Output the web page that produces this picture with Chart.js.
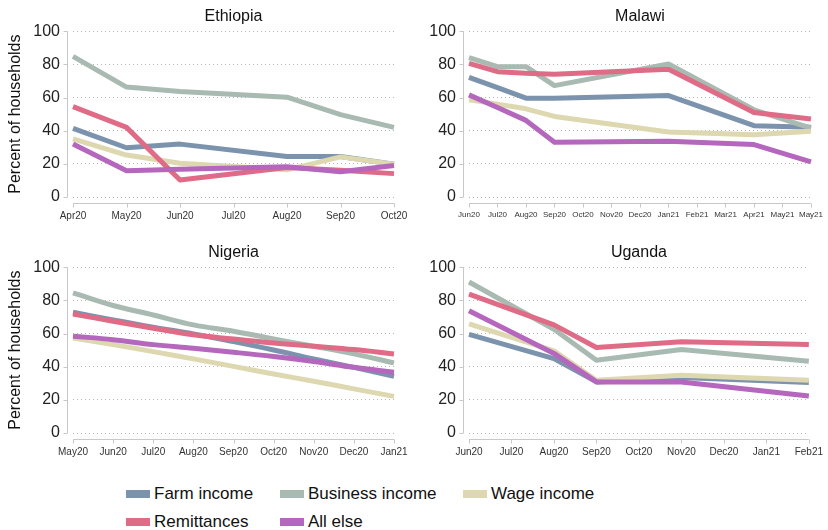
<!DOCTYPE html>
<html lang="en">
<head>
  <meta charset="UTF-8" />
  <title>Income sources by country</title>
  <script src="https://cdn.jsdelivr.net/npm/chart.js"></script>
  <style>
    body { margin: 0; background: #fff; font-family: "Liberation Sans", Arial, sans-serif; }
    .figure { position: relative; width: 828px; height: 530px; background: #fff; overflow: hidden; }
    .panel { position: absolute; width: 414px; height: 230px; }
    .legend-item { position: absolute; height: 24px; display: flex; align-items: center; font-size: 17px; color: #111; white-space: nowrap; }
    .legend-item .swatch { width: 24px; height: 8px; margin-right: 4px; }
  </style>
</head>
<body>
  <div class="figure">
    <div class="panel" style="left:0;top:0"><canvas id="ethiopia" width="414" height="230"></canvas></div>
    <div class="panel" style="left:414px;top:0"><canvas id="malawi" width="414" height="230"></canvas></div>
    <div class="panel" style="left:0;top:236px"><canvas id="nigeria" width="414" height="230"></canvas></div>
    <div class="panel" style="left:414px;top:236px"><canvas id="uganda" width="414" height="230"></canvas></div>
    <div id="legend"></div>
  </div>

  <script>
    // series names and colours (same order everywhere)
    const seriesNames = ['Farm income', 'Business income', 'Wage income', 'Remittances', 'All else'];
    const seriesColors = ['#7b93ad', '#a9bab2', '#ddd8b0', '#df6b86', '#b467bc'];

    // Ethiopia (no survey in Jul20)
    const ethiopiaMonths = ['Apr20', 'May20', 'Jun20', 'Jul20', 'Aug20', 'Sep20', 'Oct20'];
    const ethiopiaFarm = [41.4, 29.7, 31.9, null, 24.4, 24.4, 19.8];
    const ethiopiaBusiness = [84.8, 66.3, 63.6, null, 60.2, 49.7, 42.0];
    const ethiopiaWage = [35.0, 25.3, 20.4, null, 16.4, 24.2, 19.8];
    const ethiopiaRemit = [54.5, 42.0, 10.3, null, 17.8, 16.2, 14.1];
    const ethiopiaOther = [31.9, 15.8, 16.8, null, 18.2, 15.2, 19.0];

    // Malawi
    const malawiMonths = ['Jun20', 'Jul20', 'Aug20', 'Sep20', 'Oct20', 'Nov20', 'Dec20', 'Jan21', 'Feb21', 'Mar21', 'Apr21', 'May21', 'May21'];
    const malawiFarm = [72.2, 66.0, 59.6, 59.6, null, null, null, 61.2, null, null, 43.0, null, 42.0];
    const malawiBusiness = [84.0, 78.6, 78.6, 67.2, null, null, null, 80.2, null, null, 52.6, null, 41.6];
    const malawiWage = [58.6, 56.0, 53.2, 48.6, null, null, null, 39.2, null, null, 37.6, null, 39.6];
    const malawiRemit = [80.6, 75.6, 74.6, 74.0, null, null, null, 77.0, null, null, 51.0, null, 47.0];
    const malawiOther = [61.6, 54.0, 46.2, 33.0, null, null, null, 33.6, null, null, 31.6, null, 21.2];

    // Nigeria (smoothed)
    const nigeriaMonths = ['May20', 'Jun20', 'Jul20', 'Aug20', 'Sep20', 'Oct20', 'Nov20', 'Dec20', 'Jan21'];
    const nigeriaFarm = [72.8, 68.2, 63.8, 59.8, 55.1, 50.1, 44.7, 39.6, 34.2];
    const nigeriaBusiness = [84.5, 76.9, 71.2, 65.2, 61.4, 56.7, 52.3, 47.7, 42.3];
    const nigeriaWage = [57.3, 53.3, 49.1, 44.7, 40.2, 35.6, 31.2, 26.6, 22.1];
    const nigeriaRemit = [71.8, 67.4, 63.2, 59.2, 56.7, 54.3, 52.3, 50.3, 47.7];
    const nigeriaOther = [58.4, 56.3, 53.3, 51.1, 48.7, 46.1, 43.1, 39.6, 36.6];

    // Uganda
    const ugandaMonths = ['Jun20', 'Jul20', 'Aug20', 'Sep20', 'Oct20', 'Nov20', 'Dec20', 'Jan21', 'Feb21'];
    const ugandaFarm = [59.5, null, 44.9, 30.8, null, 33.4, null, null, 30.4];
    const ugandaBusiness = [91.1, null, 62.6, 43.9, null, 50.4, null, null, 43.3];
    const ugandaWage = [65.8, null, 49.6, 31.8, null, 34.8, null, null, 31.8];
    const ugandaRemit = [83.8, null, 65.2, 51.6, null, 55.1, null, null, 53.4];
    const ugandaOther = [73.7, null, 48.0, 30.8, null, 30.8, null, null, 22.3];

    const yTicks = [0, 20, 40, 60, 80, 100];
    const FONT = '"Liberation Sans", Arial, sans-serif';

    // axis lines sit a few pixels off the plot region, with short tick marks
    const offsetAxes = {
      id: 'offsetAxes',
      afterDraw(chart) {
        const { ctx, chartArea: a, scales: { x, y } } = chart;
        const ax = Math.round(a.left - 6) + 0.5;
        const ay = Math.round(a.bottom + 6) + 0.5;
        ctx.save();
        ctx.strokeStyle = '#c8c8c8';
        ctx.lineWidth = 1;
        ctx.beginPath();
        ctx.moveTo(ax, y.getPixelForValue(100));
        ctx.lineTo(ax, y.getPixelForValue(0));
        yTicks.forEach(v => {
          const py = Math.round(y.getPixelForValue(v)) + 0.5;
          ctx.moveTo(ax - 4, py);
          ctx.lineTo(ax, py);
        });
        ctx.moveTo(a.left, ay);
        ctx.lineTo(a.right, ay);
        x.ticks.forEach((t, i) => {
          const px = Math.round(x.getPixelForTick(i)) + 0.5;
          ctx.moveTo(px, ay);
          ctx.lineTo(px, ay + 4);
        });
        ctx.stroke();
        ctx.restore();
      }
    };

    function makePanel(id, title, months, values, opt) {
      const datasets = values.map((vals, i) => ({
        label: seriesNames[i],
        data: vals,
        borderColor: seriesColors[i],
        backgroundColor: seriesColors[i],
        borderWidth: 5,
        pointRadius: 0,
        tension: opt.tension || 0,
        spanGaps: true,
        borderJoinStyle: 'round',
        order: values.length - 1 - i
      }));

      new Chart(document.getElementById(id), {
        type: 'line',
        data: { labels: months, datasets },
        plugins: [offsetAxes],
        options: {
          responsive: false,
          animation: false,
          layout: { padding: { left: 0, right: opt.padRight, top: 0, bottom: 0 } },
          plugins: {
            legend: { display: false },
            tooltip: { enabled: false },
            title: {
              display: true,
              text: title,
              fullSize: false,
              color: '#111',
              font: { family: FONT, size: 16, weight: 'normal' },
              padding: { top: 7, bottom: 5 }
            }
          },
          scales: {
            x: {
              offset: false,
              grid: { display: false },
              border: { display: false },
              ticks: {
                autoSkip: false,
                maxRotation: 0,
                padding: 5,
                color: '#333',
                font: { family: FONT, size: opt.xFont }
              },
              afterFit(scale) { scale.height = 33; }
            },
            y: {
              min: 0,
              max: 100,
              afterBuildTicks(scale) { scale.ticks = yTicks.map(v => ({ value: v })); },
              grid: { color: '#b5b5b5', lineWidth: 1, drawTicks: false },
              border: { display: false, dash: [1, 3] },
              ticks: {
                padding: 13,
                color: '#222',
                font: { family: FONT, size: opt.yFont }
              },
              title: {
                display: opt.yTitle,
                text: 'Percent of households',
                color: '#111',
                font: { family: FONT, size: 16 },
                padding: { top: 6, bottom: 0 }
              },
              afterFit(scale) { scale.width = opt.left; }
            }
          }
        }
      });
    }

    makePanel('ethiopia', 'Ethiopia', ethiopiaMonths,
      [ethiopiaFarm, ethiopiaBusiness, ethiopiaWage, ethiopiaRemit, ethiopiaOther],
      { left: 73, padRight: 20, xFont: 10, yFont: 16, yTitle: true });
    makePanel('malawi', 'Malawi', malawiMonths,
      [malawiFarm, malawiBusiness, malawiWage, malawiRemit, malawiOther],
      { left: 55, padRight: 15, xFont: 8, yFont: 16, yTitle: false });
    makePanel('nigeria', 'Nigeria', nigeriaMonths,
      [nigeriaFarm, nigeriaBusiness, nigeriaWage, nigeriaRemit, nigeriaOther],
      { left: 73, padRight: 20, xFont: 10, yFont: 16, yTitle: true, tension: 0.4 });
    makePanel('uganda', 'Uganda', ugandaMonths,
      [ugandaFarm, ugandaBusiness, ugandaWage, ugandaRemit, ugandaOther],
      { left: 55, padRight: 15, xFont: 10, yFont: 16, yTitle: false });

    // shared legend below the panels
    const legendSlots = [[126, 482], [280, 482], [463, 482], [126, 510], [280, 510]];
    const legend = document.getElementById('legend');
    seriesNames.forEach((name, i) => {
      const item = document.createElement('div');
      item.className = 'legend-item';
      item.style.left = legendSlots[i][0] + 'px';
      item.style.top = legendSlots[i][1] + 'px';
      item.innerHTML = '<span class="swatch" style="background:' + seriesColors[i] + '"></span>' + name;
      legend.appendChild(item);
    });
  </script>
</body>
</html>
